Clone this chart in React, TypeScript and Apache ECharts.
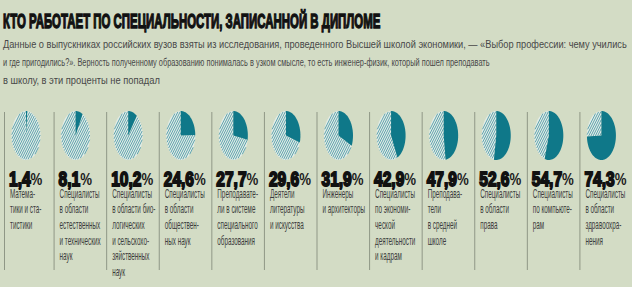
import React, { useEffect, useRef } from "react";
import * as echarts from "echarts";

const titleText = "КТО РАБОТАЕТ ПО СПЕЦИАЛЬНОСТИ, ЗАПИСАННОЙ В ДИПЛОМЕ";
const subtitleLines = [
  "Данные о выпускниках российских вузов взяты из исследования, проведенного Высшей школой экономики, — «Выбор профессии: чему учились",
  "и где пригодились?». Верность полученному образованию понималась в узком смысле, то есть инженер-физик, который пошел преподавать",
  "в школу, в эти проценты не попадал",
];

const categories = [
  "Матема-\nтики и ста-\nтистики",
  "Специалисты\nв области\nестественных\nи технических\nнаук",
  "Специалисты\nв области био-\nлогических\nи сельскохо-\nзяйственных\nнаук",
  "Специалисты\nв области\nобществен-\nных наук",
  "Преподавате-\nли в системе\nспециального\nобразования",
  "Деятели\nлитературы\nи искусства",
  "Инженеры\nи архитекторы",
  "Специалисты\nпо экономи-\nческой\nдеятельности\nи кадрам",
  "Преподава-\nтели\nв средней\nшколе",
  "Специалисты\nв области\nправа",
  "Специалисты\nпо компьюте-\nрам",
  "Специалисты\nв области\nздравоохра-\nнения",
];

const values = [1.4, 8.1, 10.2, 24.6, 27.7, 29.6, 31.9, 42.9, 47.9, 52.6, 54.7, 74.3];

const BG = "#d3dcc5";
const TEAL = "#0f7889";
const HATCH_BG = "#e3ede9";
const HATCH_LINE = "#3e919d";
const FONT = "'Liberation Sans', Arial, sans-serif";

function measure(text: string, font: string): number {
  const c = document.createElement("canvas");
  const ctx = c.getContext("2d")!;
  ctx.font = font;
  return ctx.measureText(text).width;
}

function ellipseSector(cx: number, cy: number, rx: number, ry: number, a: number, b: number) {
  const pts: number[][] = [[cx, cy]];
  const n = Math.max(2, Math.ceil(((b - a) / (2 * Math.PI)) * 90));
  for (let k = 0; k <= n; k++) {
    const t = a + ((b - a) * k) / n;
    pts.push([cx + rx * Math.cos(t), cy + ry * Math.sin(t)]);
  }
  return pts;
}

// hatch stripes clipped to the part of the ellipse beyond fraction `frac`
function hatchLines(cx: number, cy: number, rx: number, ry: number, frac: number) {
  const out: any[] = [];
  const d = [1 / Math.sqrt(5), -2 / Math.sqrt(5)];
  const nrm = [2 / Math.sqrt(5), 1 / Math.sqrt(5)];
  const period = 2.2;
  const spacing = (period * 2) / Math.sqrt(5);
  const inside = (x: number, y: number) => {
    const u = (x - cx) / rx;
    const w = (y - cy) / ry;
    if (u * u + w * w > 0.97) return false;
    let th = Math.atan2(w, u) + Math.PI / 2;
    th = ((th % (2 * Math.PI)) + 2 * Math.PI) % (2 * Math.PI);
    return th / (2 * Math.PI) >= frac;
  };
  const cmax = nrm[0] * rx + nrm[1] * ry + 1;
  for (let c = -cmax; c <= cmax; c += spacing) {
    let runStart: number[] | null = null;
    let last: number[] | null = null;
    for (let t = -30; t <= 30; t += 0.2) {
      const x = cx + c * nrm[0] + t * d[0];
      const y = cy + c * nrm[1] + t * d[1];
      if (inside(x, y)) {
        if (!runStart) runStart = [x, y];
        last = [x, y];
      } else if (runStart && last) {
        out.push({ x1: runStart[0], y1: runStart[1], x2: last[0], y2: last[1] });
        runStart = null;
        last = null;
      }
    }
    if (runStart && last) out.push({ x1: runStart[0], y1: runStart[1], x2: last[0], y2: last[1] });
  }
  return out;
}

export default function App() {
  const ref = useRef<HTMLDivElement>(null);

  useEffect(() => {
    document.body.style.margin = "0";
    const chart = echarts.init(ref.current!, null, { renderer: "svg" });

    const titleFont = `bold 19.5px ${FONT}`;
    const titleScale = 378 / measure(titleText, titleFont);
    const subFont = `11.5px ${FONT}`;
    const subTargets = [625, 487, 157];
    const subY = [44, 62, 80];

    const pctFontN = `bold 20px ${FONT}`;
    const pctFontP = `bold 17px ${FONT}`;
    const pctScale = 42 / (measure("29,6", pctFontN) + measure("%", pctFontP));
    const labFont = `12.5px ${FONT}`;
    const labScale = 40 / measure("Специалисты", labFont);

    const graphics: any[] = [
      {
        type: "text",
        x: 3,
        y: 21,
        scaleX: titleScale,
        style: {
          text: titleText,
          font: titleFont,
          fill: "#111",
          stroke: "#111",
          lineWidth: 1.3,
          verticalAlign: "middle",
        },
      },
      ...subtitleLines.map((t, k) => ({
        type: "text",
        x: 3,
        y: subY[k],
        scaleX: subTargets[k] / measure(t, subFont),
        style: { text: t, font: subFont, fill: "#484848", verticalAlign: "middle" },
      })),
    ];

    const fmt = (v: number) => v.toFixed(1).replace(".", ",");

    chart.setOption({
      animation: false,
      backgroundColor: BG,
      grid: { left: 1, top: 100, width: 634.2, height: 180 },
      xAxis: { type: "category", data: categories, show: false },
      yAxis: { type: "value", min: 0, max: 100, show: false },
      graphic: graphics,
      series: [
        {
          type: "custom",
          data: values.map((v, i) => [i, v]),
          renderItem: (params: any, api: any) => {
            const i = api.value(0);
            const v = api.value(1);
            const c = api.coord([i, 0]);
            const bw = api.size([1, 0])[0];
            const start = Math.max(c[0] - bw / 2, 4);
            const cx = start + 22;
            const cy = 135.5;
            const ry = 24.5;
            const rx = 14.5;
            const a0 = -Math.PI / 2;
            const a1 = a0 + (2 * Math.PI * v) / 100;
            const stripes = hatchLines(cx, cy, rx, ry, v / 100).map((s) => ({
              type: "line",
              shape: s,
              style: { stroke: HATCH_LINE, lineWidth: 0.8 },
            }));
            return {
              type: "group",
              children: [
                {
                  type: "line",
                  shape: { x1: start + 0.5, y1: 112, x2: start + 0.5, y2: 270 },
                  style: { stroke: "#8f9786", lineWidth: 1 },
                },
                {
                  type: "polygon",
                  shape: { points: ellipseSector(cx, cy, rx, ry, a1, a0 + 2 * Math.PI) },
                  style: { fill: HATCH_BG },
                },
                ...stripes,
                {
                  type: "polygon",
                  shape: { points: ellipseSector(cx, cy, rx, ry, a0, a1) },
                  style: { fill: TEAL },
                },
                {
                  type: "text",
                  x: start + 5,
                  y: 179,
                  scaleX: pctScale,
                  style: {
                    text: `{n|${fmt(v)}}{p|%}`,
                    verticalAlign: "middle",
                    rich: {
                      n: {
                        font: pctFontN,
                        fill: "#111",
                        stroke: "#111",
                        lineWidth: 1.8,
                      },
                      p: { font: pctFontP, fill: "#1a1a1a" },
                    },
                  },
                },
                {
                  type: "text",
                  x: start + 6,
                  y: 185.5,
                  scaleX: labScale,
                  style: {
                    text: categories[i],
                    font: labFont,
                    lineHeight: 15.6,
                    fill: "#3c3c3c",
                    verticalAlign: "top",
                  },
                },
              ],
            };
          },
        },
      ],
    });

    return () => chart.dispose();
  }, []);

  return (
    <div
      ref={ref}
      style={{ position: "fixed", left: 0, top: 0, width: 632, height: 287, background: BG }}
    />
  );
}
